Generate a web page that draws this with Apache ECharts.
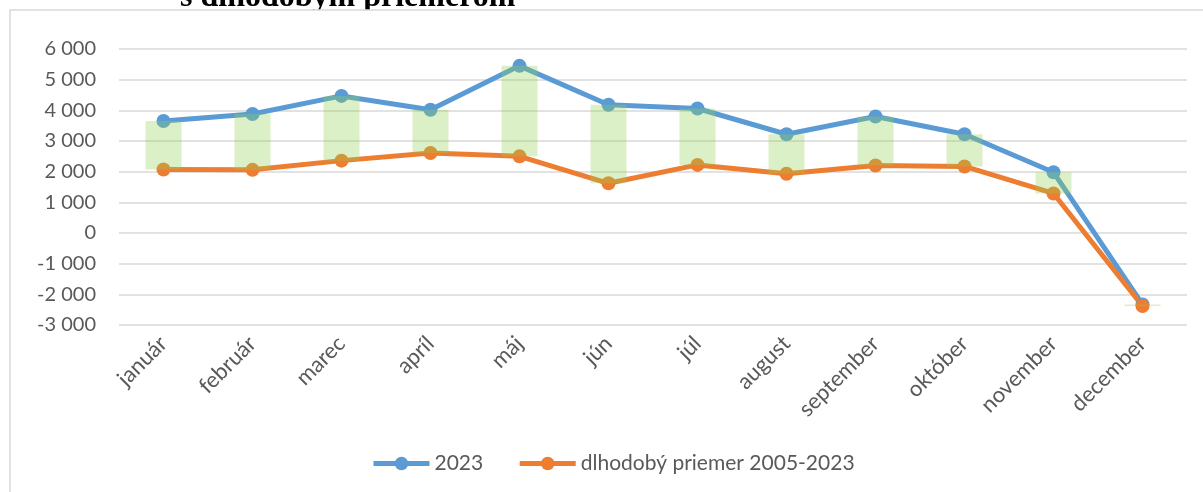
<!DOCTYPE html>
<html>
<head>
<meta charset="utf-8">
<script src="https://cdn.jsdelivr.net/npm/echarts@6/dist/echarts.min.js"></script>
<style>
html, body { margin: 0; padding: 0; background: #fff; }
#main { width: 1203px; height: 492px; }
</style>
</head>
<body>
<div id="main"></div>
<script>
// mesiace a hodnoty odčítané z grafu
var months = ['január', 'február', 'marec', 'apríl', 'máj', 'jún', 'júl', 'august', 'september', 'október', 'november', 'december'];
var values2023 = [3650, 3880, 4470, 4020, 5450, 4180, 4060, 3220, 3800, 3220, 1980, -2330];
var valuesAvg = [2070, 2060, 2360, 2610, 2500, 1620, 2220, 1930, 2200, 2170, 1290, -2380];
var seriesNames = ['2023', 'dlhodobý priemer 2005-2023'];
var yTicks = { min: -3000, max: 6000, step: 1000 };

// pás medzi dvoma krivkami = priehľadný základ + rozdiel
var bandBase = values2023.map(function (v, i) { return Math.min(v, valuesAvg[i]); });
var bandDiff = values2023.map(function (v, i) { return Math.abs(v - valuesAvg[i]); });

function fmt(v) {
	var s = String(Math.abs(v)).replace(/\B(?=(\d{3})+(?!\d))/g, ' ');
	return (v < 0 ? '-' : '') + s;
}

var myChart = echarts.init(document.getElementById('main'));

var labelFont = 'Lato';

var option = {
	backgroundColor: '#fff',
	animation: false,
	graphic: [{
		type: 'text',
		z: -2,
		left: 180,
		top: -18,
		style: {
			text: 's dlhodobým priemerom',
			font: 'bold 32px "Liberation Serif"',
			fill: '#000'
		}
	}, {
		type: 'rect',
		z: -1,
		shape: { x: 10, y: 10, width: 1230, height: 520 },
		style: { fill: '#fff', stroke: '#d9d9d9', lineWidth: 1.5 }
	}],
	grid: {
		left: 119,
		right: 16,
		top: 49,
		bottom: 167,
		outerBoundsMode: 'none'
	},
	legend: {
		data: seriesNames,
		left: 366,
		top: 446,
		itemWidth: 56,
		itemHeight: 17,
		itemGap: 34,
		lineStyle: { width: 5 },
		textStyle: { fontFamily: labelFont, fontSize: 21, color: '#595959', lineHeight: 25 }
	},
	xAxis: [{
		type: 'category',
		data: months,
		boundaryGap: true,
		axisLine: { show: false },
		axisTick: { show: false },
		axisLabel: {
			rotate: 45,
			margin: 15,
			fontFamily: labelFont,
			fontSize: 22,
			color: '#595959'
		}
	}],
	yAxis: [{
		type: 'value',
		min: yTicks.min,
		max: yTicks.max,
		interval: yTicks.step,
		axisLine: { show: false },
		axisTick: { show: false },
		axisLabel: {
			margin: 23,
			fontFamily: labelFont,
			fontSize: 20,
			color: '#595959',
			formatter: fmt
		},
		splitLine: { lineStyle: { color: '#d9d9d9', width: 1.5 } }
	}],
	series: [{
		name: seriesNames[0],
		type: 'line',
		z: 2,
		data: values2023,
		symbol: 'circle',
		symbolSize: 14,
		lineStyle: { width: 5, color: '#5b9bd5' },
		itemStyle: { color: '#5b9bd5' }
	}, {
		name: seriesNames[1],
		type: 'line',
		z: 2,
		data: valuesAvg,
		symbol: 'circle',
		symbolSize: 14,
		lineStyle: { width: 5, color: '#ed7d31' },
		itemStyle: { color: '#ed7d31' }
	}, {
		name: 'base',
		type: 'bar',
		stack: 'band',
		stackStrategy: 'all',
		z: 3,
		barWidth: 36,
		data: bandBase,
		itemStyle: { color: 'rgba(0,0,0,0)' },
		silent: true
	}, {
		name: 'band',
		type: 'bar',
		stack: 'band',
		stackStrategy: 'all',
		z: 3,
		barWidth: 36,
		data: bandDiff,
		itemStyle: { color: 'rgba(146,208,80,0.32)' },
		silent: true
	}]
};

myChart.setOption(option);
</script>
</body>
</html>
